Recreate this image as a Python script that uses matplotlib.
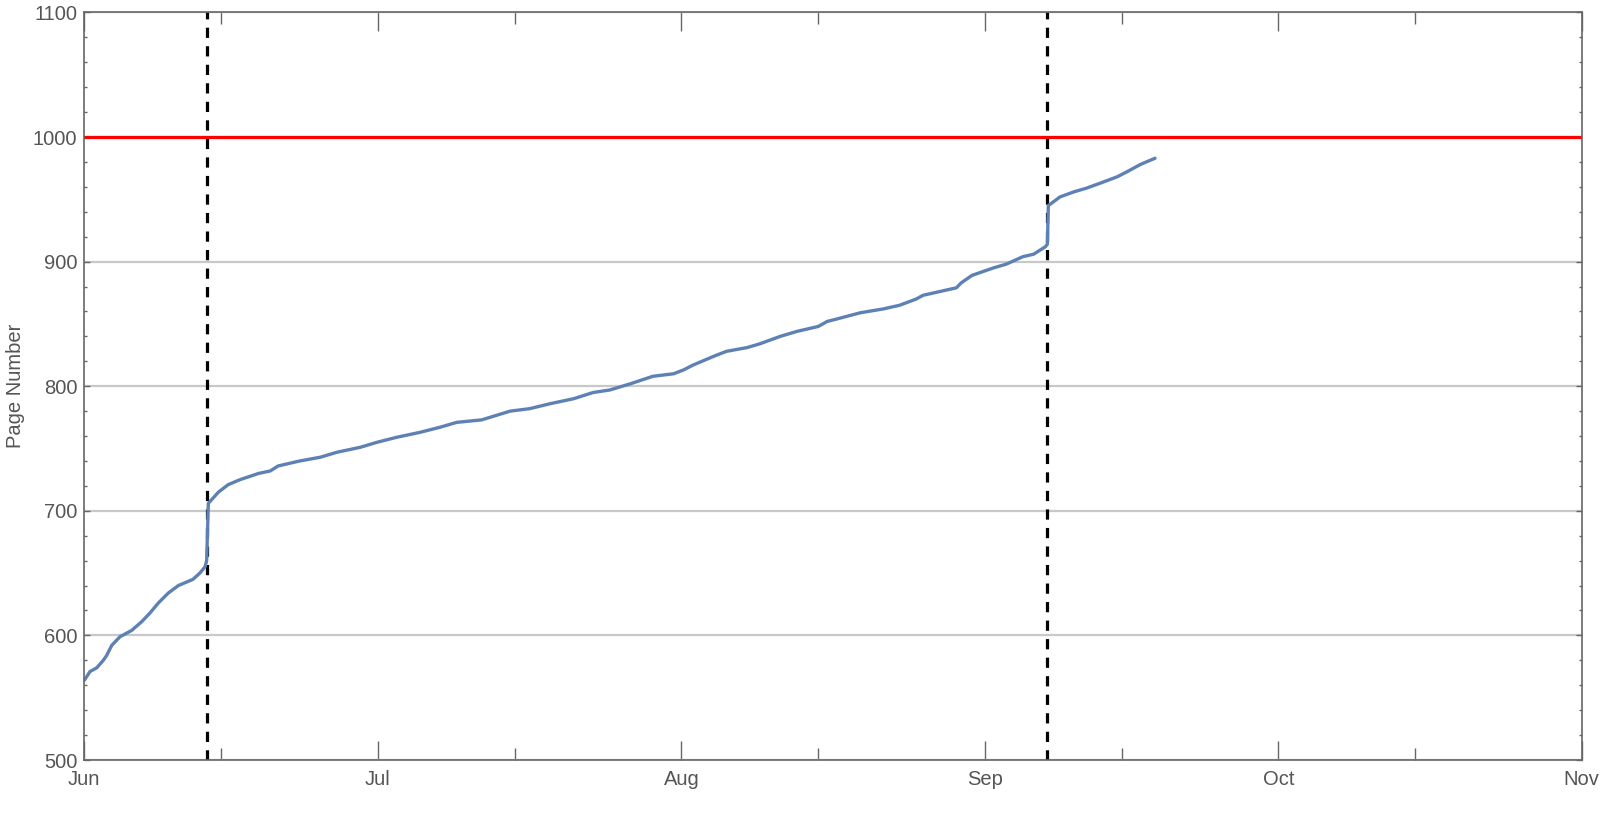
import pandas as pd
import matplotlib.pyplot as plt
import matplotlib.dates as mdates

START_DATE = pd.Timestamp("2017-06-01")

# days since Jun 1 and page reached
DAYS = [
    0.0, 0.58, 1.27, 1.94, 2.29, 2.8, 3.65, 4.84, 5.86, 6.71, 7.56, 8.58, 9.6,
    11.1, 11.8, 12.33, 12.5, 12.67, 13.7, 14.7, 15.9, 17.8, 19.0, 19.8, 22.0,
    24.1, 25.8, 28.2, 29.9, 31.9, 34.3, 36.3, 38.05, 40.6, 43.5, 45.5, 47.6,
    50.0, 52.0, 53.7, 55.8, 58.1, 60.2, 61.2, 62.2, 64.3, 65.6, 67.7, 69.0,
    71.1, 72.8, 75.0, 75.9, 76.9, 79.3, 81.6, 83.3, 85.0, 85.7, 87.4, 89.1,
    89.6, 90.7, 92.9, 94.2, 95.9, 97.0, 98.2, 98.4, 98.5, 99.7, 101.1, 102.4,
    103.8, 105.5, 106.5, 107.9, 109.4,
]
PAGES = [
    564, 571, 574, 580, 584, 592, 599, 604, 611, 618, 626, 634, 640,
    645, 650, 655, 660, 706, 715, 721, 725, 730, 732, 736, 740,
    743, 747, 751, 755, 759, 763, 767, 771, 773, 780, 782, 786,
    790, 795, 797, 802, 808, 810, 813, 817, 824, 828, 831, 834,
    840, 844, 848, 852, 854, 859, 862, 865, 870, 873, 876, 879,
    883, 889, 895, 898, 904, 906, 912, 914, 945, 952, 956, 959,
    963, 968, 972, 978, 983,
]

GOAL_PAGE = 1000
EVENT_DAYS = [12.5, 98.4]

TEXT_COLOR = "#555555"
FRAME_COLOR = "#666666"

plt.rcParams["font.family"] = ["Liberation Sans", "DejaVu Sans"]


def to_dates(days):
    return START_DATE + pd.to_timedelta(days, unit="D")


fig = plt.figure(figsize=(16, 8.26), dpi=100)
ax = fig.add_axes([0.0527, 0.0799, 0.9359, 0.905])

ax.axhline(GOAL_PAGE, color="#ff0000", lw=2.3, zorder=2)
for d in EVENT_DAYS:
    ax.axvline(to_dates([d])[0], color="black", lw=2.3, ls=(0, (3.2, 2.6)), zorder=3)

ax.plot(to_dates(DAYS), PAGES, color="#5e81b5", lw=2.4, zorder=4,
        solid_joinstyle="round", solid_capstyle="round")

ax.set_xlim(pd.Timestamp("2017-06-01"), pd.Timestamp("2017-11-01"))
ax.set_ylim(500, 1100)

ax.xaxis.set_major_locator(mdates.MonthLocator())
ax.xaxis.set_major_formatter(mdates.DateFormatter("%b"))
ax.xaxis.set_minor_locator(mdates.MonthLocator(bymonthday=15))
ax.set_yticks(range(500, 1101, 100))
ax.set_yticks(range(500, 1101, 20), minor=True)

ax.grid(axis="y", which="major", color="#c8c8c8", lw=1.6, zorder=0)
ax.set_axisbelow(True)

ax.tick_params(axis="x", which="major", direction="in", length=14, width=1,
               top=True, color=FRAME_COLOR, labelcolor=TEXT_COLOR,
               labelsize=14.5, pad=7)
ax.tick_params(axis="x", which="minor", direction="in", length=8.5, width=1,
               top=True, color=FRAME_COLOR)
ax.tick_params(axis="y", which="major", direction="in", length=4, width=1,
               right=True, color=FRAME_COLOR, labelcolor=TEXT_COLOR,
               labelsize=14.5, pad=5)
ax.tick_params(axis="y", which="minor", direction="in", length=2.3, width=1,
               right=True, color=FRAME_COLOR)

for spine in ax.spines.values():
    spine.set_color(FRAME_COLOR)
    spine.set_linewidth(1.2)
    spine.set_zorder(5)

ax.set_ylabel("Page Number", color=TEXT_COLOR, fontsize=14.5, labelpad=6)

plt.savefig("out.png", dpi=100)
plt.close(fig)
